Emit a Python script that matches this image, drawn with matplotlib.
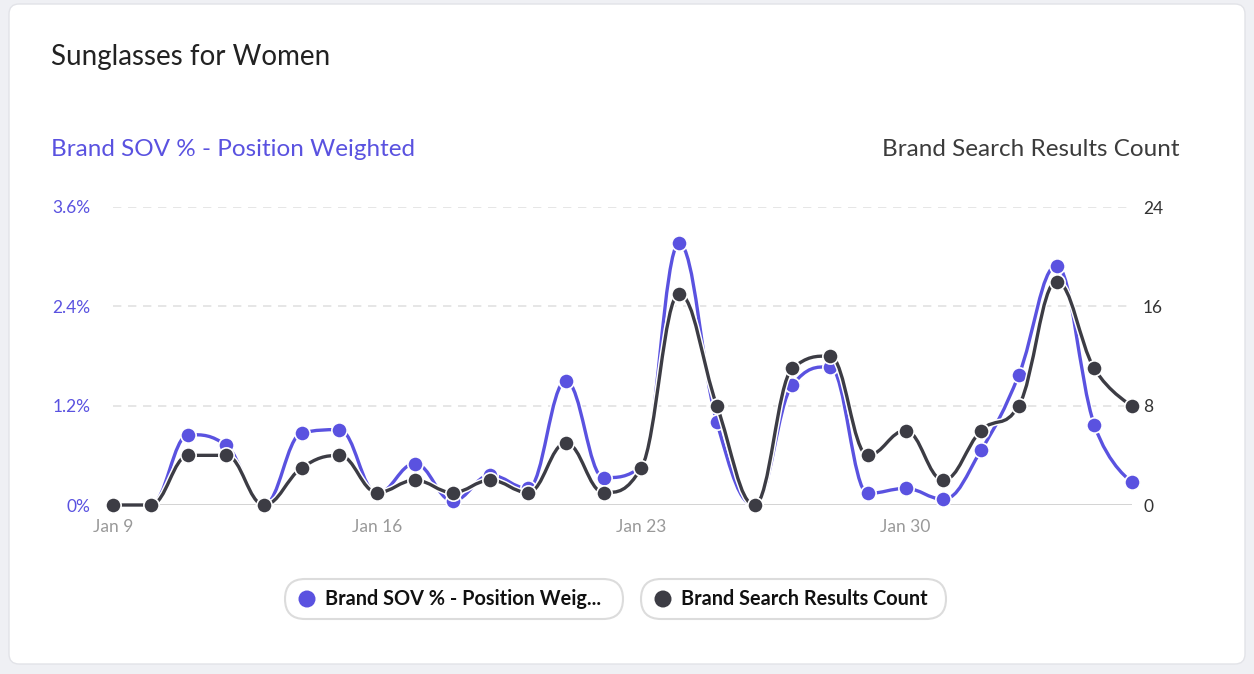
import numpy as np
import matplotlib
matplotlib.use("Agg")
import matplotlib.pyplot as plt
from matplotlib.path import Path
from matplotlib.patches import PathPatch, FancyBboxPatch, Circle
import matplotlib.patheffects as pe

plt.rcParams['font.family'] = ['Lato', 'DejaVu Sans']

# ---------------------------------------- data -------------------------
days = ["Jan 9", "Jan 10", "Jan 11", "Jan 12", "Jan 13", "Jan 14", "Jan 15",
        "Jan 16", "Jan 17", "Jan 18", "Jan 19", "Jan 20", "Jan 21", "Jan 22",
        "Jan 23", "Jan 24", "Jan 25", "Jan 26", "Jan 27", "Jan 28", "Jan 29",
        "Jan 30", "Jan 31", "Feb 1", "Feb 2", "Feb 3", "Feb 4", "Feb 5"]
sov_pct = [0, 0, 0.85, 0.72, 0, 0.87, 0.91, 0.14, 0.50, 0.05, 0.36, 0.20, 1.50, 0.33,
           0.46, 3.16, 1.00, 0, 1.45, 1.67, 0.14, 0.20, 0.07, 0.66, 1.57, 2.89, 0.97, 0.28]
search_count = [0, 0, 4, 4, 0, 3, 4, 1, 2, 1, 2, 1, 5, 1,
                3, 17, 8, 0, 11, 12, 4, 6, 2, 6, 8, 18, 11, 8]
tick_days = ["Jan 9", "Jan 16", "Jan 23", "Jan 30"]
left_ticks = [0, 1.2, 2.4, 3.6]
right_ticks = [0, 8, 16, 24]

PURPLE = "#5a52e0"
DARK = "#3c3c44"


def spline_path(xs, ys, smoothing=1.5):
    # highcharts-like spline: control points clamped so no overshoot
    n = len(xs)
    lc, rc = [], []
    for i in range(n):
        x, y = xs[i], ys[i]
        if 0 < i < n - 1:
            lx, ly = xs[i - 1], ys[i - 1]
            nx, ny = xs[i + 1], ys[i + 1]
            d = smoothing + 1
            lcx = (smoothing * x + lx) / d
            lcy = (smoothing * y + ly) / d
            rcx = (smoothing * x + nx) / d
            rcy = (smoothing * y + ny) / d
            corr = 0
            if rcx != lcx:
                corr = ((rcy - lcy) * (rcx - x)) / (rcx - lcx) + y - rcy
            lcy += corr
            rcy += corr
            if lcy > ly and lcy > y:
                lcy = max(ly, y); rcy = 2 * y - lcy
            elif lcy < ly and lcy < y:
                lcy = min(ly, y); rcy = 2 * y - lcy
            if rcy > ny and rcy > y:
                rcy = max(ny, y); lcy = 2 * y - rcy
            elif rcy < ny and rcy < y:
                rcy = min(ny, y); lcy = 2 * y - rcy
            lc.append((lcx, lcy)); rc.append((rcx, rcy))
        else:
            lc.append((x, y)); rc.append((x, y))
    verts = [(xs[0], ys[0])]
    codes = [Path.MOVETO]
    for i in range(1, n):
        verts += [rc[i - 1], lc[i], (xs[i], ys[i])]
        codes += [Path.CURVE4] * 3
    return Path(verts, codes)


W, H = 1254, 674
fig = plt.figure(figsize=(W / 100, H / 100), dpi=100)
fig.patch.set_facecolor("#eff0f4")

# background layer in pixel coordinates (card, titles, legend pills)
bg = fig.add_axes([0, 0, 1, 1], zorder=-1)
bg.set_xlim(0, W)
bg.set_ylim(H, 0)
bg.axis("off")
bg.add_patch(FancyBboxPatch((9, 4), 1236, 660,
                            boxstyle="round,pad=0,rounding_size=10",
                            facecolor="white", edgecolor="#e2e3e8", linewidth=1))

bg.text(51, 57, "Sunglasses for Women", fontsize=20,
        color="#222222", va="center", ha="left")
bg.text(51, 149, "Brand SOV % - Position Weighted", fontsize=17.5,
        color=PURPLE, va="center", ha="left")
bg.text(1180, 149, "Brand Search Results Count", fontsize=17.5,
        color="#3c3c3c", va="center", ha="right")

legend_items = [("Brand SOV % - Position Weig...", PURPLE, 285, 623),
                ("Brand Search Results Count", DARK, 641, 946)]
for label, col, x0, x1 in legend_items:
    bg.add_patch(FancyBboxPatch((x0, 579), x1 - x0, 40,
                                boxstyle="round,pad=0,rounding_size=20",
                                facecolor="white", edgecolor="#dcdcdc",
                                linewidth=1.5))
    bg.add_patch(Circle((x0 + 22, 599), 8.5, facecolor=col, edgecolor="none"))
    bg.text(x0 + 40, 599, label, fontsize=14.3, fontweight="bold",
            color="#111111", va="center", ha="left")

# plot area
ax = fig.add_axes([113 / W, (H - 505) / H, (1132 - 113) / W, (505 - 207) / H])
ax2 = ax.twinx()
x = np.arange(len(days))
ax.set_xlim(0, len(days) - 1)
ax.set_ylim(0, 3.6)
ax2.set_ylim(0, 24)
for a in (ax, ax2):
    a.patch.set_visible(False)
    for s in a.spines.values():
        s.set_visible(False)
    a.tick_params(length=0)

for v in left_ticks[1:]:
    ax.axhline(v, color="#e2e2e2", lw=1.2, ls=(0, (5, 4)), zorder=0)
ax.axhline(0, color="#cccccc", lw=1.2, zorder=0)

ax.set_yticks(left_ticks)
ax.set_yticklabels([f"{v:g}%" for v in left_ticks], color=PURPLE, fontsize=12.5)
ax.tick_params(axis="y", pad=16)
ax2.set_yticks(right_ticks)
ax2.set_yticklabels([str(v) for v in right_ticks], color="#333333", fontsize=12.5)
ax2.tick_params(axis="y", pad=8)
ax.set_xticks([days.index(d) for d in tick_days])
ax.set_xticklabels(tick_days, color="#999999", fontsize=12.5)
ax.tick_params(axis="x", pad=10)

halo = [pe.Stroke(linewidth=4.5, foreground="white"), pe.Normal()]
p1 = PathPatch(spline_path(x, sov_pct), facecolor="none", edgecolor=PURPLE,
               lw=2.4, transform=ax.transData, zorder=2, clip_on=False)
p1.set_path_effects(halo)
ax.add_patch(p1)
ax.plot(x, sov_pct, "o", color=PURPLE, ms=11, mec="white", mew=1.2,
        clip_on=False, zorder=3)

p2 = PathPatch(spline_path(x, search_count), facecolor="none", edgecolor=DARK,
               lw=2.4, transform=ax2.transData, zorder=2, clip_on=False)
p2.set_path_effects(halo)
ax2.add_patch(p2)
ax2.plot(x, search_count, "o", color=DARK, ms=11, mec="white", mew=1.2,
         clip_on=False, zorder=3)

plt.savefig("out.png", dpi=100, facecolor=fig.get_facecolor())
